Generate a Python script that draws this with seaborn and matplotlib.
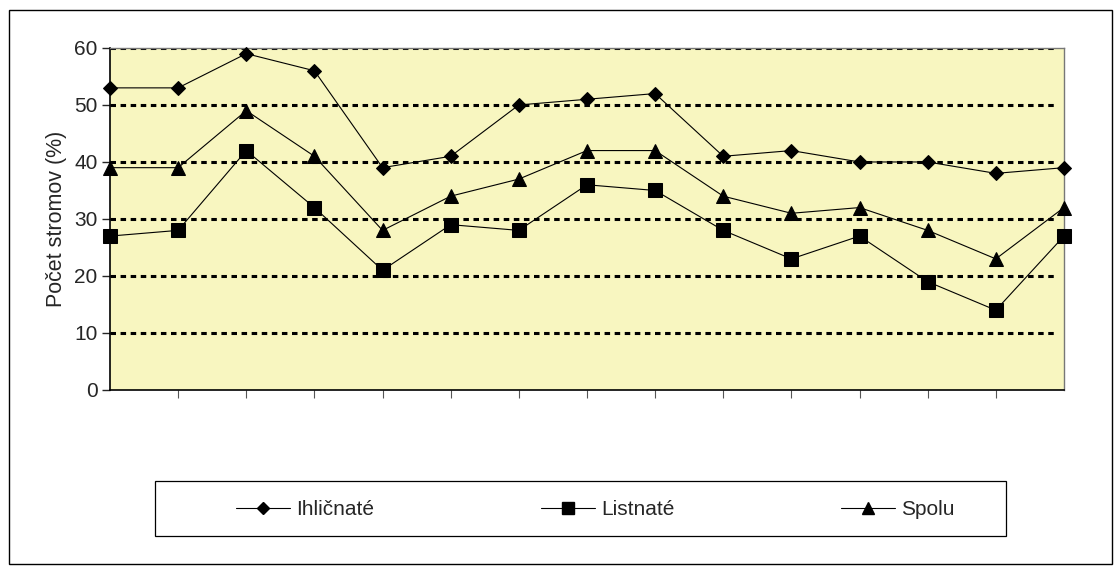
import pandas as pd
import numpy as np
import matplotlib
matplotlib.use('Agg')
import matplotlib.pyplot as plt
import seaborn as sns
from matplotlib.patches import Rectangle

# Values (15 sampling points)
points = list(range(15))
ihlicnate = [53, 53, 59, 56, 39, 41, 50, 51, 52, 41, 42, 40, 40, 38, 39]
listnate = [27, 28, 42, 32, 21, 29, 28, 36, 35, 28, 23, 27, 19, 14, 27]
spolu = [39, 39, 49, 41, 28, 34, 37, 42, 42, 34, 31, 32, 28, 23, 32]
series_names = ['Ihličnaté', 'Listnaté', 'Spolu']
y_ticks = [0, 10, 20, 30, 40, 50, 60]

df = pd.DataFrame({
    'bod': points * 3,
    'hodnota': ihlicnate + listnate + spolu,
    'typ': [n for n in series_names for _ in points],
})

sns.set_style('white')
plt.rcParams['font.family'] = ['Liberation Sans', 'DejaVu Sans']

fig = plt.figure(figsize=(11.19, 5.71), dpi=100)
ax = fig.add_axes([0.0983, 0.317, 0.8525, 0.599])
ax.set_facecolor('#F8F6C0')

markers = {'Ihličnaté': 'D', 'Listnaté': 's', 'Spolu': '^'}
sizes = {'Ihličnaté': 7.5, 'Listnaté': 10, 'Spolu': 10}

for name in series_names:
    sns.lineplot(data=df[df['typ'] == name], x='bod', y='hodnota', ax=ax,
                 color='black', marker=markers[name], markersize=sizes[name],
                 markeredgecolor='black', linewidth=0.8, label=name,
                 legend=False, zorder=3, clip_on=False)

# dotted horizontal grid
for y in y_ticks[1:]:
    ax.axhline(y, xmin=0, xmax=0.99, color='black', linestyle=(0, (1.8, 1.5)),
               linewidth=2.2, zorder=1)

ax.set_xlim(0, 14)
ax.set_ylim(0, 60)
ax.set_yticks(y_ticks)
ax.set_xticks(range(1, 14))
ax.set_xticklabels([])
ax.tick_params(axis='y', labelsize=15, length=6, width=1, direction='out',
               left=True, pad=3)
ax.tick_params(axis='x', length=6, width=0.8, direction='out', bottom=True,
               colors='#555555')
ax.set_xlabel('')
ax.set_ylabel('Počet stromov (%)', fontsize=15.5, labelpad=5)

for side in ['left', 'bottom']:
    ax.spines[side].set_color('black')
    ax.spines[side].set_linewidth(1.2)
for side in ['top', 'right']:
    ax.spines[side].set_color('#777777')
    ax.spines[side].set_linewidth(1)

# legend at the bottom, box drawn separately
handles = [plt.Line2D([0], [0], color='black', linewidth=0.8,
                      marker=markers[n], markersize=sizes[n] * 0.8)
           for n in series_names]
leg = fig.legend(handles, series_names, loc='center',
                 bbox_to_anchor=(0.532, 0.107), ncol=3, frameon=False,
                 fontsize=15, handlelength=2.6, handletextpad=0.3,
                 columnspacing=8.0)
fig.patches.append(Rectangle((0.1385, 0.0613), 0.7605, 0.0963,
                             transform=fig.transFigure, fill=False,
                             edgecolor='black', linewidth=0.9))

# outer chart frame
fig.patches.append(Rectangle((0.008, 0.012), 0.986, 0.97, transform=fig.transFigure,
                             fill=False, edgecolor='black', linewidth=1))

fig.savefig('out.png', dpi=100)
